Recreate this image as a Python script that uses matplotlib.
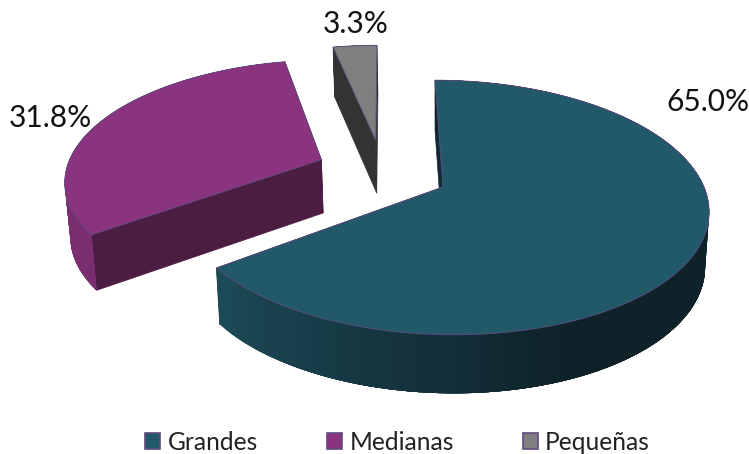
import numpy as np
import matplotlib
matplotlib.use('Agg')
import matplotlib.pyplot as plt
from matplotlib.patches import Patch
from matplotlib.colors import to_rgb

categories = ['Grandes', 'Medianas', 'Pequeñas']
values = [65.0, 31.8, 3.3]
labels = ['65.0%', '31.8%', '3.3%']

top_colors = ['#215968', '#8a337e', '#7f7f7f']
cut_colors = ['#0f2a33', '#4b1d43', '#333333']
wall_near = ['#0f2229', '#7a2e70', '#333333']
wall_far = ['#1c4b58', '#7a2e70', '#333333']
edge = '#5f4a80'

plt.rcParams['font.family'] = ['Lato', 'DejaVu Sans']
fig = plt.figure(figsize=(7.49, 4.54), dpi=100)
ax = fig.add_axes([0, 0, 1, 1])
ax.set_xlim(0, 749)
ax.set_ylim(454, 0)
ax.axis('off')

OX, OY, RX, RY, SH, K, M = 443, 187, 261, 124, -9.3, 0.161, 0.0
offsets = [(0, 0), (-0.475, 0.228), (-0.26, 0.40)]
radii = [1.0, 1.0, 1.0]


def project(u, v):
    d = 1 + K * v + M * u
    return OX + (RX * u + SH * v) / d, OY - RY * v / d


def drop(x, y):
    return 440 + (x - 440) * 0.985, y + 48.5 + 0.03 * y


frac = np.array(values) / np.sum(values) * 360
stops = np.concatenate([[0], np.cumsum(frac)])

for i in [2, 1, 0]:
    a, b = offsets[i]
    t = np.radians(np.linspace(stops[i], stops[i + 1], 120))
    ax_x, ax_y = project(a + radii[i] * np.sin(t), b + radii[i] * np.cos(t))
    cx, cy = project(a, b)
    bx, by = drop(ax_x, ax_y)
    bcx, bcy = drop(cx, cy)
    z = 2 + (2 - i)
    # cut faces
    for j in (0, -1):
        ax.fill([cx, ax_x[j], bx[j], bcx], [cy, ax_y[j], by[j], bcy],
                color=cut_colors[i], lw=0.5, zorder=z)
    # outer wall as shaded strips, each overlapping the next to hide seams
    c0, c1 = np.array(to_rgb(wall_far[i])), np.array(to_rgb(wall_near[i]))
    deg = np.degrees(t)
    n = len(t)
    for j in range(n - 1, 0, -1):
        w = np.clip((stops[i + 1] - deg[j]) / 74, 0, 1)
        k = max(j - 6, 0)
        xs = np.r_[ax_x[k:j + 1], bx[k:j + 1][::-1]]
        ys = np.r_[ax_y[k:j + 1], by[k:j + 1][::-1]]
        ax.fill(xs, ys, facecolor=c0 + (c1 - c0) * w, edgecolor='none', lw=0, zorder=z)
    # top face
    ax.fill(np.r_[cx, ax_x], np.r_[cy, ax_y], facecolor=top_colors[i],
            edgecolor=edge, lw=0.6, zorder=z + 1)

label_pos = [(708, 102), (50, 118), (356, 24)]
for s, (x, y) in zip(labels, label_pos):
    ax.text(x, y, s, ha='center', va='center', fontsize=21.5, color='#111111')

handles = [Patch(facecolor=c, edgecolor=edge, lw=1.2) for c in top_colors]
leg = ax.legend(handles, categories, ncol=3, loc='center',
                bbox_to_anchor=(397.5 / 749, 1 - 442 / 454), frameon=False,
                fontsize=17.7, handlelength=0.62, handleheight=0.62,
                handletextpad=0.3, columnspacing=2.8)
for tx in leg.get_texts():
    tx.set_color('#222222')

fig.savefig('out.png', dpi=100)
